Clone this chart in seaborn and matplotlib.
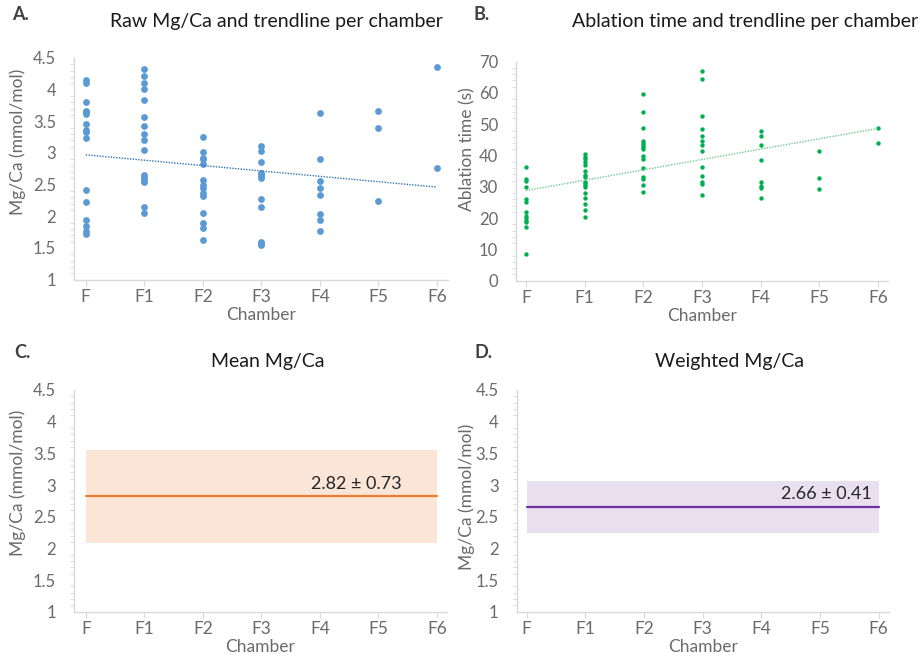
import numpy as np
import pandas as pd
import matplotlib
matplotlib.use("Agg")
import matplotlib.pyplot as plt
import seaborn as sns
from matplotlib.ticker import MultipleLocator

sns.set_theme(style="white")
plt.rcParams['font.family'] = ['Lato', 'DejaVu Sans']

chambers = ["F", "F1", "F2", "F3", "F4", "F5", "F6"]

mgca_F = [4.15, 4.11, 3.81, 3.67, 3.64, 3.61, 3.46, 3.37, 3.33, 3.24, 2.42, 2.23, 1.94, 1.84, 1.76, 1.72]
mgca_F1 = [4.33, 4.22, 4.10, 4.01, 3.83, 3.57, 3.43, 3.30, 3.20, 3.04, 2.65, 2.62, 2.57, 2.54, 2.15, 2.05]
mgca_F2 = [3.25, 3.02, 2.92, 2.90, 2.83, 2.58, 2.49, 2.45, 2.36, 2.32, 2.05, 1.90, 1.82, 1.63]
mgca_F3 = [3.11, 3.03, 2.86, 2.68, 2.65, 2.63, 2.60, 2.27, 2.14, 1.60, 1.57, 1.54]
mgca_F4 = [3.63, 2.90, 2.55, 2.44, 2.33, 2.04, 1.94, 1.76]
mgca_F5 = [3.66, 3.40, 2.24]
mgca_F6 = [4.36, 2.77]

abl_F = [36.4, 32.4, 31.9, 30.0, 26.1, 25.0, 21.9, 20.8, 20.1, 19.2, 18.9, 17.1, 8.4]
abl_F1 = [40.4, 39.6, 38.8, 37.9, 36.9, 35.1, 33.7, 33.3, 31.6, 31.2, 30.5, 30.1, 27.9, 26.4, 24.4, 22.6, 20.5]
abl_F2 = [59.6, 53.9, 48.8, 44.8, 44.1, 43.4, 42.8, 42.2, 39.8, 38.8, 35.9, 33.3, 32.6, 30.7, 28.2]
abl_F3 = [67.0, 64.4, 52.8, 48.5, 46.2, 44.6, 43.5, 41.4, 36.2, 33.4, 31.4, 30.9, 27.4]
abl_F4 = [47.9, 46.1, 43.4, 38.6, 31.4, 30.3, 29.7, 26.3]
abl_F5 = [41.4, 32.8, 29.2]
abl_F6 = [48.9, 43.9]

mean_mgca = 2.82
mean_sd = 0.73
weighted_mgca = 2.66
weighted_sd = 0.41

mg_lists = [mgca_F, mgca_F1, mgca_F2, mgca_F3, mgca_F4, mgca_F5, mgca_F6]
ab_lists = [abl_F, abl_F1, abl_F2, abl_F3, abl_F4, abl_F5, abl_F6]

df_mg = pd.DataFrame([(i, c, v) for i, (c, vals) in enumerate(zip(chambers, mg_lists)) for v in vals],
                     columns=["pos", "chamber", "value"])
df_ab = pd.DataFrame([(i, c, v) for i, (c, vals) in enumerate(zip(chambers, ab_lists)) for v in vals],
                     columns=["pos", "chamber", "value"])

W, H = 922, 657
fig = plt.figure(figsize=(W / 100, H / 100), dpi=100)

def ax_px(l, r, t, b):
    return fig.add_axes([l / W, 1 - b / H, (r - l) / W, (b - t) / H])

axA = ax_px(74, 448, 58, 279.6)
axB = ax_px(516, 888, 61.7, 280.7)
axC = ax_px(74, 446.7, 390, 611.7)
axD = ax_px(516.7, 888.7, 390, 611.7)

tick_col = "#6a6a6a"
label_col = "#6a6a6a"
spine_col = "#d9d9d9"

def style(ax, xlim, ylim, ystep, ylabel, lab_xy):
    ax.set_xlim(*xlim)
    ax.set_ylim(*ylim)
    ax.set_xticks(range(len(chambers)))
    ax.set_xticklabels(chambers)
    ax.yaxis.set_major_locator(MultipleLocator(ystep))
    ax.yaxis.set_minor_locator(MultipleLocator(ystep / 5))
    for s in ["top", "right"]:
        ax.spines[s].set_visible(False)
    for s in ["left", "bottom"]:
        ax.spines[s].set_color(spine_col)
        ax.spines[s].set_linewidth(1.0)
    ax.tick_params(axis="x", which="major", bottom=True, length=4, width=0.8, color=spine_col,
                   labelsize=12.5, labelcolor=tick_col, pad=3)
    ax.tick_params(axis="y", which="major", left=False, labelsize=12, labelcolor=tick_col, pad=7)
    ax.tick_params(axis="y", which="minor", left=True, length=3, width=0.6, color=spine_col)
    ax.set_xlabel("Chamber", fontsize=12.5, color=label_col, labelpad=1)
    ax.set_ylabel(ylabel, fontsize=12.5, color=label_col)
    ax.yaxis.set_label_coords(*lab_xy)
    ax.grid(False)

yt = [1, 1.5, 2, 2.5, 3, 3.5, 4, 4.5]
ytl = ["1", "1.5", "2", "2.5", "3", "3.5", "4", "4.5"]

# Panel A
sns.scatterplot(data=df_mg, x="pos", y="value", ax=axA, color="#5b9bd5", s=24, linewidth=0)
sns.regplot(data=df_mg, x="pos", y="value", ax=axA, scatter=False, ci=None, truncate=True,
            line_kws=dict(color="#2e75b6", lw=1.0, ls=(0, (1, 1))))
axA.set_yticks(yt)
axA.set_yticklabels(ytl)
style(axA, (-0.2, 6.19), (1, 4.5), 0.5, "Mg/Ca (mmol/mol)", (-0.128, 0.62))

# Panel B
sns.scatterplot(data=df_ab, x="pos", y="value", ax=axB, color="#00b050", s=10, linewidth=0)
sns.regplot(data=df_ab, x="pos", y="value", ax=axB, scatter=False, ci=None, truncate=True,
            line_kws=dict(color="#70c98e", lw=1.0, ls=(0, (1, 1))))
style(axB, (-0.17, 6.17), (0, 70), 10, "Ablation time (s)", (-0.108, 0.6))
axB.yaxis.set_minor_locator(MultipleLocator(2))

# Panels C, D
xs = np.arange(len(chambers))
def band(ax, m, sd, line_col, fill_col, tx):
    ax.fill_between(xs, m - sd, m + sd, color=fill_col, lw=0)
    sns.lineplot(x=xs, y=np.full(len(xs), m), ax=ax, color=line_col, lw=1.6)
    ax.text(tx, m + 0.07, f"{m:.2f} \u00b1 {sd:.2f}", ha="center", va="bottom",
            fontsize=13, color="#262626")

band(axC, mean_mgca, mean_sd, "#ed7d31", "#fbe5d6", 4.63)
axC.set_yticks(yt)
axC.set_yticklabels(ytl)
style(axC, (-0.205, 6.17), (1, 4.5), 0.5, "Mg/Ca (mmol/mol)", (-0.128, 0.58))

band(axD, weighted_mgca, weighted_sd, "#7030a0", "#e8e0ee", 5.11)
axD.set_yticks(yt)
axD.set_yticklabels(ytl)
style(axD, (-0.17, 6.17), (1, 4.5), 0.5, "Mg/Ca (mmol/mol)", (-0.112, 0.52))

# Titles and panel letters
def ftext(x, y, s, **kw):
    fig.text(x / W, 1 - y / H, s, **kw)

tcol = "#1a1a1a"
ftext(276, 22, "Raw Mg/Ca and trendline per chamber", ha="center", va="center", fontsize=14, color=tcol)
ftext(745, 22, "Ablation time and trendline per chamber", ha="center", va="center", fontsize=14, color=tcol)
ftext(268, 361, "Mean Mg/Ca", ha="center", va="center", fontsize=14, color=tcol)
ftext(729, 361, "Weighted Mg/Ca", ha="center", va="center", fontsize=14, color=tcol)

lcol = "#404040"
ftext(12, 15, "A.", ha="left", va="center", fontsize=13, fontweight="bold", color=lcol)
ftext(473, 15, "B.", ha="left", va="center", fontsize=13, fontweight="bold", color=lcol)
ftext(14, 352, "C.", ha="left", va="center", fontsize=13, fontweight="bold", color=lcol)
ftext(474, 352, "D.", ha="left", va="center", fontsize=13, fontweight="bold", color=lcol)

fig.savefig("out.png", dpi=100)
